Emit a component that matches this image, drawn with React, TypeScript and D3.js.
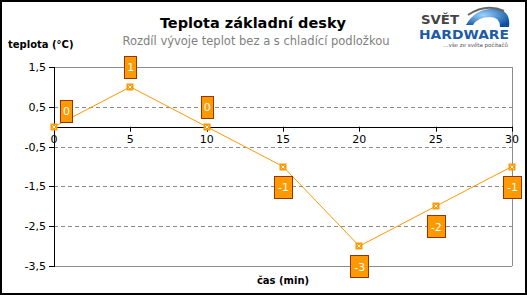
import React, { useEffect, useRef } from 'react';
import * as d3 from 'd3';

const minutes = [0, 5, 10, 15, 20, 25, 30];
const tempDiff = [0, 1, 0, -1, -3, -2, -1];
const yTicks = [1.5, 0.5, -0.5, -1.5, -2.5, -3.5];
const xTicks = [0, 5, 10, 15, 20, 25, 30];

const W = 527;
const H = 295;

export default function App() {
  const ref = useRef<SVGSVGElement>(null);

  useEffect(() => {
    const svg = d3.select(ref.current);
    svg.selectAll('*').remove();
    const font = 'DejaVu Sans, Verdana, sans-serif';

    svg.append('rect')
      .attr('x', 1).attr('y', 1).attr('width', W - 2).attr('height', H - 2)
      .attr('fill', '#fff').attr('stroke', '#000').attr('stroke-width', 2);

    const x = d3.scaleLinear().domain([0, 30]).range([54, 512]);
    const y = d3.scaleLinear().domain([-3.5, 1.5]).range([266, 67]);

    // gridlines
    const grid = svg.append('g');
    yTicks.forEach((t) => {
      const edge = t === 1.5 || t === -3.5;
      grid.append('line')
        .attr('x1', x(0)).attr('x2', x(30))
        .attr('y1', Math.round(y(t)) + 0.5).attr('y2', Math.round(y(t)) + 0.5)
        .attr('stroke', '#8c8c8c').attr('stroke-width', 1)
        .attr('stroke-dasharray', edge ? null : '4,3');
    });
    grid.append('line')
      .attr('x1', x(30) + 0.5).attr('x2', x(30) + 0.5)
      .attr('y1', y(1.5)).attr('y2', y(-3.5))
      .attr('stroke', '#8c8c8c');

    // y axis
    const yAxis = svg.append('g');
    yAxis.append('line')
      .attr('x1', x(0) + 0.5).attr('x2', x(0) + 0.5)
      .attr('y1', y(1.5)).attr('y2', y(-3.5) + 1)
      .attr('stroke', '#000');
    yTicks.forEach((t) => {
      yAxis.append('line')
        .attr('x1', x(0) - 5).attr('x2', x(0))
        .attr('y1', Math.round(y(t)) + 0.5).attr('y2', Math.round(y(t)) + 0.5)
        .attr('stroke', '#000');
      yAxis.append('text')
        .attr('x', x(0) - 8).attr('y', y(t) + 4)
        .attr('text-anchor', 'end')
        .attr('font-family', font).attr('font-size', 11)
        .text(String(t).replace('.', ','));
    });

    // x axis at 0
    const xAxis = svg.append('g');
    xAxis.append('line')
      .attr('x1', x(0)).attr('x2', x(30))
      .attr('y1', Math.round(y(0)) + 0.5).attr('y2', Math.round(y(0)) + 0.5)
      .attr('stroke', '#000');
    xTicks.forEach((t) => {
      xAxis.append('line')
        .attr('x1', Math.round(x(t)) + 0.5).attr('x2', Math.round(x(t)) + 0.5)
        .attr('y1', y(0)).attr('y2', y(0) + 5)
        .attr('stroke', '#000');
      xAxis.append('text')
        .attr('x', x(t)).attr('y', y(0) + 16)
        .attr('text-anchor', 'middle')
        .attr('font-family', font).attr('font-size', 11)
        .text(t);
    });

    // line
    const data = minutes.map((m, i) => ({ m, v: tempDiff[i] }));
    svg.append('path')
      .datum(data)
      .attr('d', d3.line<{ m: number; v: number }>().x((d) => x(d.m)).y((d) => y(d.v)))
      .attr('fill', 'none').attr('stroke', '#ff9900').attr('stroke-width', 1);

    // markers
    const mk = svg.append('g');
    data.forEach((d) => {
      const cx = Math.round(x(d.m));
      const cy = Math.round(y(d.v));
      mk.append('rect')
        .attr('x', cx - 3.5).attr('y', cy - 3.5).attr('width', 7).attr('height', 7)
        .attr('fill', '#ff9900');
      mk.append('path')
        .attr('d', `M${cx - 1.5},${cy - 1.5}L${cx + 1.5},${cy + 1.5}M${cx + 1.5},${cy - 1.5}L${cx - 1.5},${cy + 1.5}`)
        .attr('stroke', '#fff').attr('stroke-width', 1);
    });

    // data labels
    const lb = svg.append('g');
    data.forEach((d, i) => {
      const label = String(d.v);
      const bw = label.length > 1 ? 18 : 12;
      const bh = 22;
      let cx = x(d.m);
      let cy = d.v >= 0 ? y(d.v) - 20 : y(d.v) + 20;
      if (i === 0) { cx += 12; cy += 4; }
      lb.append('rect')
        .attr('x', Math.round(cx - bw / 2) + 0.5).attr('y', Math.round(cy - bh / 2) + 0.5)
        .attr('width', bw).attr('height', bh)
        .attr('fill', '#ff9900').attr('stroke', '#993300').attr('stroke-width', 1);
      lb.append('text')
        .attr('x', cx + 0.5).attr('y', cy + 4.5)
        .attr('text-anchor', 'middle')
        .attr('font-family', font).attr('font-size', 11)
        .attr('fill', '#fff')
        .text(label);
    });

    // titles
    svg.append('text')
      .attr('x', 253).attr('y', 28)
      .attr('text-anchor', 'middle')
      .attr('font-family', font).attr('font-size', 14.5).attr('font-weight', 'bold')
      .text('Teplota základní desky');
    svg.append('text')
      .attr('x', 256).attr('y', 45)
      .attr('text-anchor', 'middle')
      .attr('font-family', font).attr('font-size', 11.5).attr('fill', '#808080')
      .text('Rozdíl vývoje teplot bez a s chladící podložkou');
    svg.append('text')
      .attr('x', 8).attr('y', 48)
      .attr('font-family', font).attr('font-size', 10).attr('font-weight', 'bold')
      .text('teplota (°C)');
    svg.append('text')
      .attr('x', 283).attr('y', 284)
      .attr('text-anchor', 'middle')
      .attr('font-family', font).attr('font-size', 10).attr('font-weight', 'bold')
      .text('čas (min)');

    // logo
    const logo = svg.append('g');
    const grad = svg.append('defs').append('radialGradient').attr('id', 'globe')
      .attr('cx', '40%').attr('cy', '35%').attr('r', '70%');
    grad.append('stop').attr('offset', '0%').attr('stop-color', '#9fd3ff');
    grad.append('stop').attr('offset', '100%').attr('stop-color', '#0a4f9e');
    logo.append('path')
      .attr('d', 'M466,25 Q476,7 498,9 Q511,12 509,27 L500,27 Q500,17 490,17 Q478,17 473,25 Z')
      .attr('fill', 'url(#globe)');
    logo.append('path')
      .attr('d', 'M468,15 Q486,3 504,11')
      .attr('fill', 'none').attr('stroke', '#666').attr('stroke-width', 2);
    logo.append('text')
      .attr('x', 421).attr('y', 24)
      .attr('font-family', font).attr('font-size', 12).attr('font-weight', 'bold')
      .attr('fill', '#444')
      .attr('textLength', 38).attr('lengthAdjust', 'spacingAndGlyphs')
      .text('SVĚT');
    logo.append('text')
      .attr('x', 419).attr('y', 39)
      .attr('font-family', font).attr('font-size', 12).attr('font-weight', 'bold')
      .attr('fill', '#1d5aa8')
      .attr('textLength', 90).attr('lengthAdjust', 'spacingAndGlyphs')
      .text('HARDWARE');
    logo.append('text')
      .attr('x', 508).attr('y', 47)
      .attr('text-anchor', 'end')
      .attr('font-family', font).attr('font-size', 5.5)
      .attr('fill', '#555')
      .text('...vše ze světa počítačů');
  }, []);

  return (
    <svg
      ref={ref}
      width={W}
      height={H}
      style={{ position: 'absolute', left: 0, top: 0, display: 'block' }}
    />
  );
}
